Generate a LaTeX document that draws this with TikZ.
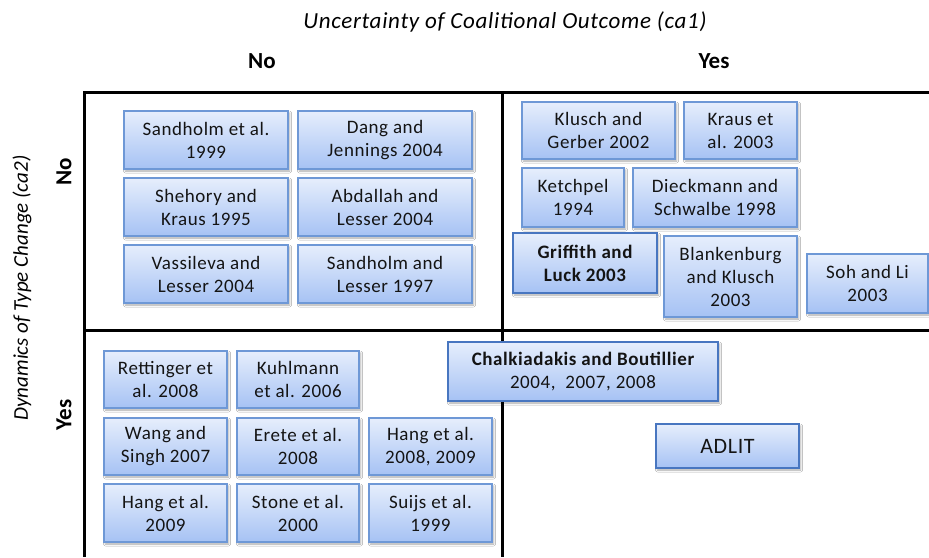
\documentclass[tikz,border=0pt]{standalone}
\usepackage{fontspec}
\setmainfont{Carlito}
\usetikzlibrary{shadows.blur}
\definecolor{boxtop}{RGB}{230,238,252}
\definecolor{boxbot}{RGB}{166,194,244}
\definecolor{boxedge}{RGB}{110,152,214}
\definecolor{boxedgedark}{RGB}{72,118,192}
\definecolor{boxtext}{RGB}{20,20,20}
\tikzset{
  ref/.style={draw=boxedge, line width=1.2pt, top color=boxtop, bottom color=boxbot,
    inner sep=0pt, align=center, text=boxtext,
    font=\fontsize{19}{23}\selectfont\addfontfeature{LetterSpace=3},
    blur shadow={shadow xshift=1.5pt, shadow yshift=-2pt, shadow blur radius=2pt, shadow opacity=35}},
  keyref/.style={ref, draw=boxedgedark, line width=2pt},
  grid/.style={line width=3pt, black},
  axis/.style={font=\fontsize{23}{27}\selectfont\itshape\addfontfeature{LetterSpace=3}, text=black},
  level/.style={font=\fontsize{23}{27}\selectfont\bfseries, text=black}
}
\newcommand{\refbox}[6][ref]{%
  \node[#1, minimum width=#4pt, minimum height=#5pt] (#2) at #3 {#6};}
\begin{document}
\begin{tikzpicture}[x=1pt,y=-1pt]
\useasboundingbox (0,0) rectangle (929,557);
\fill[white] (0,0) rectangle (929,557);

% quadrant frame
\coordinate (tl) at (84,92);
\coordinate (tm) at (502,92);
\coordinate (tr) at (929,92);
\coordinate (bl) at (84,557);
\coordinate (bm) at (502,557);
\coordinate (ml) at (84,330);
\coordinate (mr) at (929,330);
\draw[grid] (tr) -- (tl) -- (bl);
\draw[grid] (tm) -- (bm);
\draw[grid] (ml) -- (mr);

% axis titles and levels
\node[axis] (ca1) at (505,22) {Uncertainty of Coalitional Outcome (ca1)};
\node[level] (cano) at (262,61) {No};
\node[level] (cayes) at (714,61) {Yes};
\node[axis, rotate=90, font=\fontsize{21}{25}\selectfont\itshape] (ca2) at (22,288) {Dynamics of Type Change (ca2)};
\node[level, rotate=90] (rno) at (64,172) {No};
\node[level, rotate=90] (ryes) at (64,415) {Yes};

% no / no
\refbox{s99}{(206,140)}{164}{58}{Sandholm et al.\\1999}
\refbox{dj04}{(385,140)}{174}{58}{Dang and\\Jennings 2004}
\refbox{sk95}{(206,207)}{164}{58}{Shehory and\\Kraus 1995}
\refbox{al04}{(385,207)}{174}{58}{Abdallah and\\Lesser 2004}
\refbox{vl04}{(206,274)}{164}{58}{Vassileva and\\Lesser 2004}
\refbox{sl97}{(385,274)}{174}{58}{Sandholm and\\Lesser 1997}

% yes / no
\refbox{kg02}{(598.5,130.5)}{153}{57}{Klusch and\\Gerber 2002}
\refbox{kr03}{(740.5,130.5)}{113}{57}{Kraus et\\al. 2003}
\refbox{ke94}{(573,197.5)}{102}{59}{Ketchpel\\1994}
\refbox{ds98}{(715,197.5)}{164}{59}{Dieckmann and\\Schwalbe 1998}
\refbox[keyref]{gl03}{(585,263)}{144}{60}{\bfseries Griffith and\\\bfseries Luck 2003}
\refbox{bk03}{(730.5,276.5)}{133}{81}{Blankenburg\\and Klusch\\2003}
\refbox{so03}{(867.5,283.5)}{121}{59}{Soh and Li\\2003}

% no / yes
\refbox{re08}{(165.5,379.5)}{123}{57}{Rettinger et\\al. 2008}
\refbox{ku06}{(298,379.5)}{122}{57}{Kuhlmann\\et al. 2006}
\refbox{ws07}{(165.5,446.5)}{123}{57}{Wang and\\Singh 2007}
\refbox{er08}{(298,446.5)}{122}{57}{Erete et al.\\2008}
\refbox{ha89}{(430.5,446.5)}{123}{57}{Hang et al.\\2008, 2009}
\refbox{ha09}{(165.5,513)}{123}{58}{Hang et al.\\2009}
\refbox{st00}{(298,513)}{122}{58}{Stone et al.\\2000}
\refbox{su99}{(430.5,513)}{123}{58}{Suijs et al.\\1999}

% spanning and yes / yes
\refbox[keyref]{cb}{(583,371.5)}{270}{59}{\bfseries Chalkiadakis and Boutillier\\2004,\ \ 2007, 2008}
\refbox[keyref]{adlit}{(727.5,446)}{143}{44}{\fontsize{22}{26}\selectfont ADLIT}
\end{tikzpicture}
\end{document}
